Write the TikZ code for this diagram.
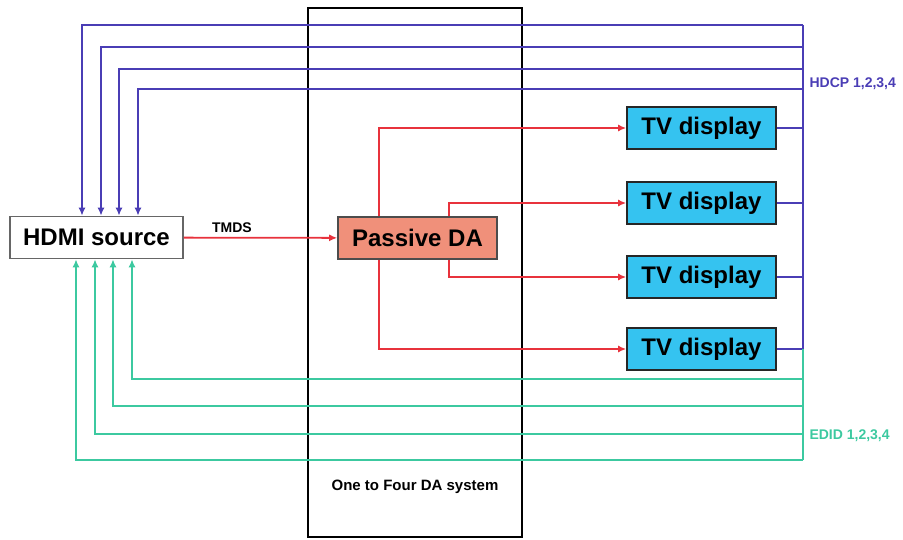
\documentclass[tikz,border=0pt]{standalone}
\usepackage{fontspec}
\setmainfont{Liberation Sans}
\usetikzlibrary{arrows.meta}

\definecolor{hdcpblue}{HTML}{4A3DB5}
\definecolor{edidgreen}{HTML}{3CC9A0}
\definecolor{tmdsred}{HTML}{E8323C}
\definecolor{tvblue}{HTML}{35C3F0}
\definecolor{dasalmon}{HTML}{F0907A}

\begin{document}
\begin{tikzpicture}[
  x=1pt, y=-1pt,
  every node/.style={font=\bfseries, align=center},
  unitbox/.style={rectangle, draw, line width=1.6pt, inner sep=0pt,
                  minimum height=42pt, font=\fontsize{24}{28}\selectfont\bfseries},
  tvbox/.style={unitbox, fill=tvblue, draw=black!85, minimum width=149pt},
  smalllabel/.style={font=\fontsize{14}{16}\selectfont\bfseries},
  hdcpline/.style={draw=hdcpblue, line width=1.8pt},
  edidline/.style={draw=edidgreen, line width=1.8pt},
  upto/.style={-{Latex[length=8pt,width=7pt]}},
  tmdsline/.style={draw=tmdsred, line width=1.8pt, -{Latex[length=8pt,width=7pt]}}
]
  \useasboundingbox (0,0) rectangle (903,540);

  % System frame
  \node[rectangle, draw=black, line width=2.2pt, minimum width=214pt,
        minimum height=529pt, inner sep=0pt] (sys) at (415, 272.5) {};
  \node[font=\fontsize{15}{18}\selectfont\bfseries] (syslabel) at (415, 487)
    {One to Four DA system};

  % Source and splitter
  \node[unitbox, draw=black!60, fill=white, minimum width=173pt]
    (hdmi) at (96.5, 237.5) {HDMI source};
  \node[unitbox, draw=black!70, fill=dasalmon, minimum width=159pt]
    (da) at (417.5, 238) {Passive DA};

  % Displays
  \node[tvbox] (tv1) at (701.5, 128) {TV display};
  \node[tvbox] (tv2) at (701.5, 203) {TV display};
  \node[tvbox] (tv3) at (701.5, 277) {TV display};
  \node[tvbox] (tv4) at (701.5, 349) {TV display};

  % TMDS path
  \draw[tmdsline] (hdmi) -- (da);
  \node[smalllabel] (tmds) at (232, 228) {TMDS};
  \draw[tmdsline] ([xshift=-38.5pt]da.north) |- (tv1.west);
  \draw[tmdsline] ([xshift=31.5pt]da.north) |- (tv2.west);
  \draw[tmdsline] ([xshift=31.5pt]da.south) |- (tv3.west);
  \draw[tmdsline] ([xshift=-38.5pt]da.south) |- (tv4.west);

  % HDCP lines back to the source
  \foreach \row/\col [count=\i] in {25/82, 47/101, 69/119, 89/138} {
    \coordinate (hb\i) at (803, \row);
    \coordinate (hc\i) at (\col, \row);
    \draw[hdcpline, upto] (hb\i) -- (hc\i) -- (hc\i |- hdmi.north);
  }
  \foreach \t in {1,...,4}
    \draw[hdcpline] (tv\t.east) -- (tv\t.east -| hb1);
  \draw[hdcpline] (hb1) -- (hb1 |- tv4.east);
  \node[smalllabel, text=hdcpblue, anchor=west] (hdcp) at (806, 84)
    {HDCP 1,2,3,4};

  % EDID lines back to the source
  \foreach \row/\col [count=\i] in {379/132, 406/113, 434/95, 460/76} {
    \coordinate (eb\i) at (803, \row);
    \coordinate (ec\i) at (\col, \row);
    \draw[edidline, upto] (eb\i) -- (ec\i) -- (ec\i |- hdmi.south);
  }
  \draw[edidline] (hb1 |- tv4.east) -- (eb4);
  \node[smalllabel, text=edidgreen, anchor=west] (edid) at (806, 436)
    {EDID 1,2,3,4};
\end{tikzpicture}
\end{document}
